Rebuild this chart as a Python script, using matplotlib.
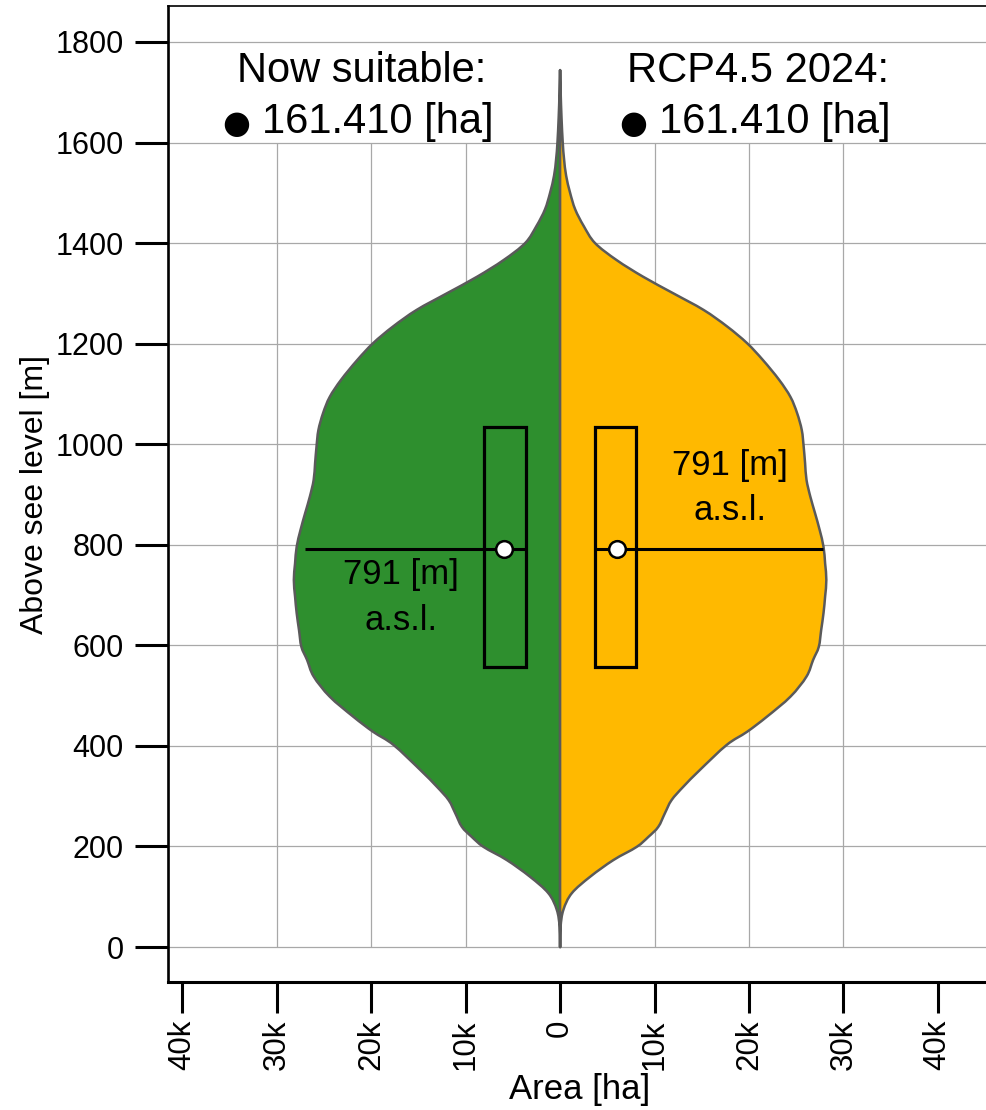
import matplotlib
matplotlib.use("Agg")
import matplotlib.pyplot as plt
from matplotlib.patches import PathPatch, Rectangle
from matplotlib.path import Path

plt.rcParams['font.family'] = ['Liberation Sans', 'DejaVu Sans']

# Elevation profile of suitable area (m a.s.l. -> thousand ha)
elevation = [0, 40, 74, 107, 140, 173, 199, 219, 239, 266, 292, 319, 352, 402,
             428, 458, 498, 538, 571, 597, 630, 664, 697, 730, 763, 796, 829,
             863, 896, 929, 962, 995, 1028, 1062, 1094, 1128, 1167, 1201, 1234,
             1267, 1300, 1333, 1366, 1400, 1434, 1467, 1500, 1534, 1567, 1600,
             1650, 1700, 1744]
area_now = [0.0, 0.05, 0.35, 1.24, 3.2, 5.65, 8.1, 9.35, 10.4, 11.1, 11.8,
            13.06, 14.8, 17.65, 19.8, 21.9, 24.4, 26.1, 26.8, 27.4, 27.65,
            27.9, 28.07, 28.2, 28.07, 27.9, 27.5, 27.0, 26.5, 26.1, 25.95,
            25.8, 25.6, 25.1, 24.4, 23.2, 21.5, 19.8, 17.7, 15.2, 12.0, 8.8,
            6.0, 3.7, 2.5, 1.6, 1.06, 0.64, 0.42, 0.28, 0.15, 0.06, 0.0]
area_rcp45 = list(area_now)

# Summary statistics (m a.s.l.)
q1, median, q3 = 557, 791, 1034
total_now = "161.410"
total_rcp45 = "161.410"

x_ticks = [-40, -30, -20, -10, 0, 10, 20, 30, 40]
x_tick_labels = ["40k", "30k", "20k", "10k", "0", "10k", "20k", "30k", "40k"]
y_ticks = [0, 200, 400, 600, 800, 1000, 1200, 1400, 1600, 1800]

GREEN = "#2E8F2E"
AMBER = "#FFB900"
OUTLINE = "#5A5A5A"
GRID = "#A8A8A8"


def half_violin_path(widths, levels, side):
    """Smooth closed outline (Catmull-Rom as cubic Bezier) of one violin half."""
    pts = [(side * w, e) for w, e in zip(widths, levels)]
    n = len(pts)
    verts = [pts[0]]
    codes = [Path.MOVETO]
    for i in range(n - 1):
        p0 = pts[max(i - 1, 0)]
        p1 = pts[i]
        p2 = pts[i + 1]
        p3 = pts[min(i + 2, n - 1)]
        c1 = (p1[0] + (p2[0] - p0[0]) / 6, p1[1] + (p2[1] - p0[1]) / 6)
        c2 = (p2[0] - (p3[0] - p1[0]) / 6, p2[1] - (p3[1] - p1[1]) / 6)
        verts += [c1, c2, p2]
        codes += [Path.CURVE4] * 3
    verts += [(0, levels[0]), (0, levels[0])]
    codes += [Path.LINETO, Path.CLOSEPOLY]
    return Path(verts, codes)


fig = plt.figure(figsize=(9.87, 11.10), dpi=100)
ax = fig.add_axes([0.1702, 0.1153, 0.835, 0.8793])
ax.set_xlim(-41.53, 45.76)
ax.set_ylim(-69.6, 1871.5)

# grid
for y in y_ticks:
    ax.axhline(y, color=GRID, lw=0.9, zorder=0)
for x in [-30, -20, -10, 10, 20, 30]:
    ax.vlines(x, 0, 1600, color=GRID, lw=0.9, zorder=0)

# split violin
ax.add_patch(PathPatch(half_violin_path(area_now, elevation, -1), facecolor=GREEN,
                       edgecolor=OUTLINE, lw=1.8, joinstyle='round', zorder=2))
ax.add_patch(PathPatch(half_violin_path(area_rcp45, elevation, 1), facecolor=AMBER,
                       edgecolor=OUTLINE, lw=1.8, joinstyle='round', zorder=2))

# boxes, median lines, median markers
for x0, x1, line_from, line_to, xm in [(-8.05, -3.6, -27.0, -3.6, -5.9),
                                       (3.7, 8.05, 3.7, 27.8, 6.0)]:
    ax.add_patch(Rectangle((x0, q1), x1 - x0, q3 - q1, fill=False,
                           edgecolor="black", lw=2.3, zorder=3))
    ax.plot([line_from, line_to], [median, median], color="black", lw=2.2,
            zorder=3, solid_capstyle='butt')
    ax.plot([xm], [median], marker='o', markersize=12, markerfacecolor='white',
            markeredgecolor='black', markeredgewidth=1.8, zorder=4)

# totals in the upper corners
for xc, title, total in [(-21.0, "Now suitable:", total_now),
                         (21.0, "RCP4.5 2024:", total_rcp45)]:
    ax.text(xc, 1720, title, ha='center', va='baseline', fontsize=30, zorder=5)
    ax.text(xc - 13.3, 1619, "\u25CF", ha='center', va='baseline', fontsize=23,
            family='DejaVu Sans', zorder=5)
    ax.text(xc - 10.55, 1619, total + " [ha]", ha='left', va='baseline',
            fontsize=30, zorder=5)

# median labels
ax.text(-16.9, 722, f"{median} [m]", ha='center', va='baseline', fontsize=25, zorder=5)
ax.text(-16.9, 630, "a.s.l.", ha='center', va='baseline', fontsize=25, zorder=5)
ax.text(18.0, 939, f"{median} [m]", ha='center', va='baseline', fontsize=25, zorder=5)
ax.text(18.0, 849, "a.s.l.", ha='center', va='baseline', fontsize=25, zorder=5)

# axes styling
ax.set_yticks(y_ticks)
ax.set_yticklabels([str(v) for v in y_ticks], fontsize=22)
ax.set_xticks(x_ticks)
ax.set_xticklabels(x_tick_labels, fontsize=22.5, rotation=90)
ax.tick_params(axis='y', length=24, width=2.2, pad=8, direction='out')
ax.tick_params(axis='x', length=22, width=2.2, pad=5, direction='out')
ax.spines['right'].set_visible(False)
ax.spines['left'].set_linewidth(1.9)
ax.spines['bottom'].set_linewidth(2.2)
ax.spines['top'].set_linewidth(1.2)

ax.set_ylabel("Above see level [m]", fontsize=23, labelpad=4)
ax.set_xlabel("Area [ha]", fontsize=25, labelpad=2)

fig.savefig("out.png", dpi=100)
